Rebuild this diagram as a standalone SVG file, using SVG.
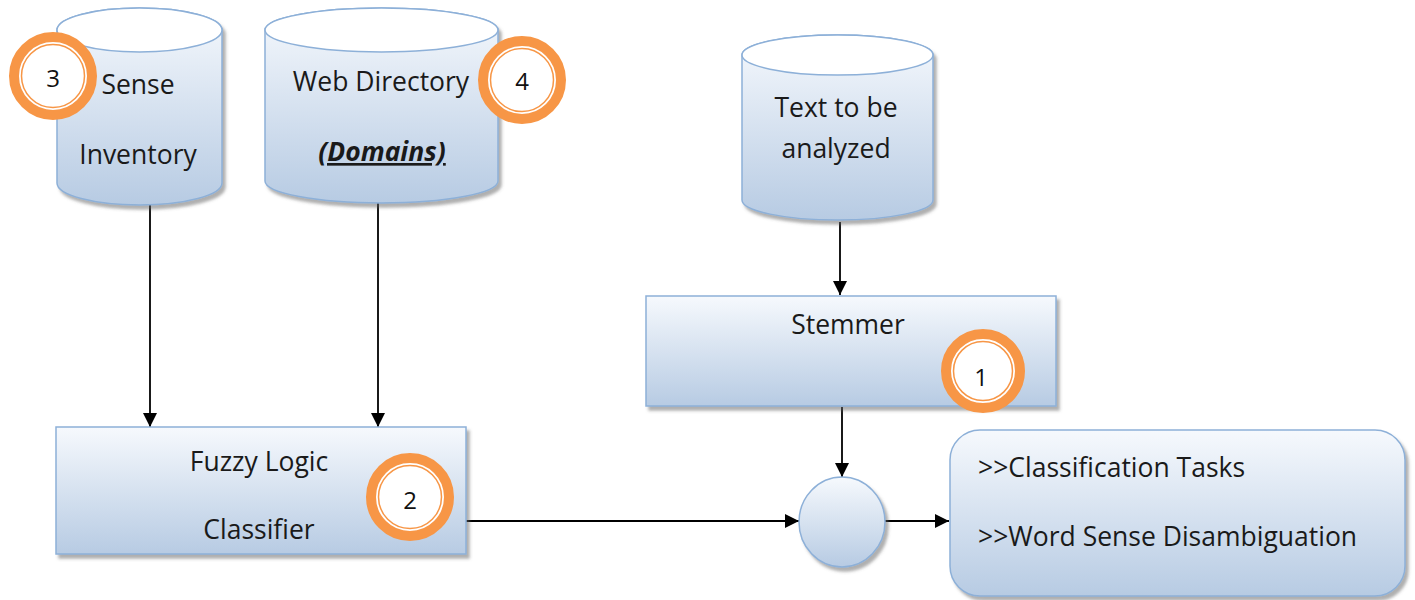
<svg xmlns="http://www.w3.org/2000/svg" width="1415" height="600" viewBox="0 0 1415 600">
<defs>
<linearGradient id="g" x1="0" y1="0" x2="0" y2="1">
<stop offset="0" stop-color="#F6F9FD"/>
<stop offset="1" stop-color="#B7CBE3"/>
</linearGradient>
<filter id="sh" x="-10%" y="-10%" width="130%" height="130%">
<feDropShadow dx="3" dy="4" stdDeviation="1.5" flood-color="#606060" flood-opacity="0.5"/>
</filter>
<marker id="ah" viewBox="0 0 14 14" refX="14" refY="7" markerWidth="14" markerHeight="14" markerUnits="userSpaceOnUse" orient="auto">
<path d="M0,0 L14,7 L0,14 Z" fill="#000"/>
</marker>
</defs>
<style>
.sh{fill:url(#g);stroke:#8DB0D8;stroke-width:1.5;filter:url(#sh)}
.top{fill:#fff;stroke:#8DB0D8;stroke-width:1.5}
.t{font-family:"Open Sans","Liberation Sans",sans-serif;font-size:26.5px;fill:#1a1a1a;text-anchor:middle}
.tl{font-family:"Open Sans","Liberation Sans",sans-serif;font-size:26.5px;fill:#1a1a1a}
.ring{fill:#fff;stroke:#F79646;stroke-width:10}
.inner{fill:none;stroke:#F79646;stroke-width:1.5}
.num{font-family:"Open Sans","Liberation Sans",sans-serif;font-size:24px;fill:#111;text-anchor:middle}
.c{stroke:#000;stroke-width:1.8;fill:none;marker-end:url(#ah)}
</style>

<g id="connectors">
<line class="c" x1="150" y1="205" x2="150" y2="427"/>
<line class="c" x1="378" y1="203" x2="378" y2="427"/>
<line class="c" x1="840" y1="222" x2="840" y2="295"/>
<line class="c" x1="842" y1="407" x2="842" y2="477"/>
<line class="c" x1="466" y1="521" x2="799" y2="521"/>
<line class="c" x1="885" y1="521" x2="949" y2="521"/>
</g>

<g id="sense-inventory">
<path class="sh" d="M57,30 V183 A82.5,22 0 0 0 222,183 V30 A82.5,22 0 0 0 57,30 Z"/>
<ellipse class="top" cx="139.5" cy="30" rx="82.5" ry="22"/>
<text class="t" x="138" y="94">Sense</text>
<text class="t" x="138" y="164">Inventory</text>
</g>

<g id="web-directory">
<path class="sh" d="M265,30 V181 A116.5,22 0 0 0 498,181 V30 A116.5,22 0 0 0 265,30 Z"/>
<ellipse class="top" cx="381.5" cy="30" rx="116.5" ry="22"/>
<text class="t" x="381" y="91">Web Directory</text>
<text class="t" x="382" y="161" font-weight="bold" font-style="italic" text-decoration="underline">(Domains)</text>
</g>

<g id="text-to-be-analyzed">
<path class="sh" d="M742,55 V200 A95.5,20 0 0 0 933,200 V55 A95.5,20 0 0 0 742,55 Z"/>
<ellipse class="top" cx="837.5" cy="55" rx="95.5" ry="20"/>
<text class="t" x="836" y="117">Text to be</text>
<text class="t" x="836" y="158">analyzed</text>
</g>

<g id="stemmer">
<rect class="sh" x="646" y="296" width="410" height="110"/>
<text class="t" x="848" y="334">Stemmer</text>
</g>

<g id="fuzzy-logic-classifier">
<rect class="sh" x="56" y="427" width="410" height="127"/>
<text class="t" x="259" y="471">Fuzzy Logic</text>
<text class="t" x="259" y="539">Classifier</text>
</g>

<g id="junction">
<ellipse class="sh" cx="842" cy="522" rx="43" ry="45"/>
</g>

<g id="output">
<rect class="sh" x="950" y="430" width="455" height="166" rx="30" ry="30"/>
<text class="tl" x="978" y="477">&gt;&gt;Classification Tasks</text>
<text class="tl" x="978" y="546">&gt;&gt;Word Sense Disambiguation</text>
</g>

<g id="badge-3">
<circle class="ring" cx="53" cy="76" r="39"/>
<circle class="inner" cx="53" cy="76" r="31.5"/>
<text class="num" x="53" y="87">3</text>
</g>
<g id="badge-4">
<circle class="ring" cx="522" cy="80" r="39"/>
<circle class="inner" cx="522" cy="80" r="31.5"/>
<text class="num" x="522" y="90">4</text>
</g>
<g id="badge-1">
<circle class="ring" cx="983" cy="371" r="37"/>
<circle class="inner" cx="983" cy="371" r="29.5"/>
<text class="num" x="981" y="386">1</text>
</g>
<g id="badge-2">
<circle class="ring" cx="410" cy="497" r="39"/>
<circle class="inner" cx="410" cy="497" r="31.5"/>
<text class="num" x="410" y="509">2</text>
</g>
</svg>
